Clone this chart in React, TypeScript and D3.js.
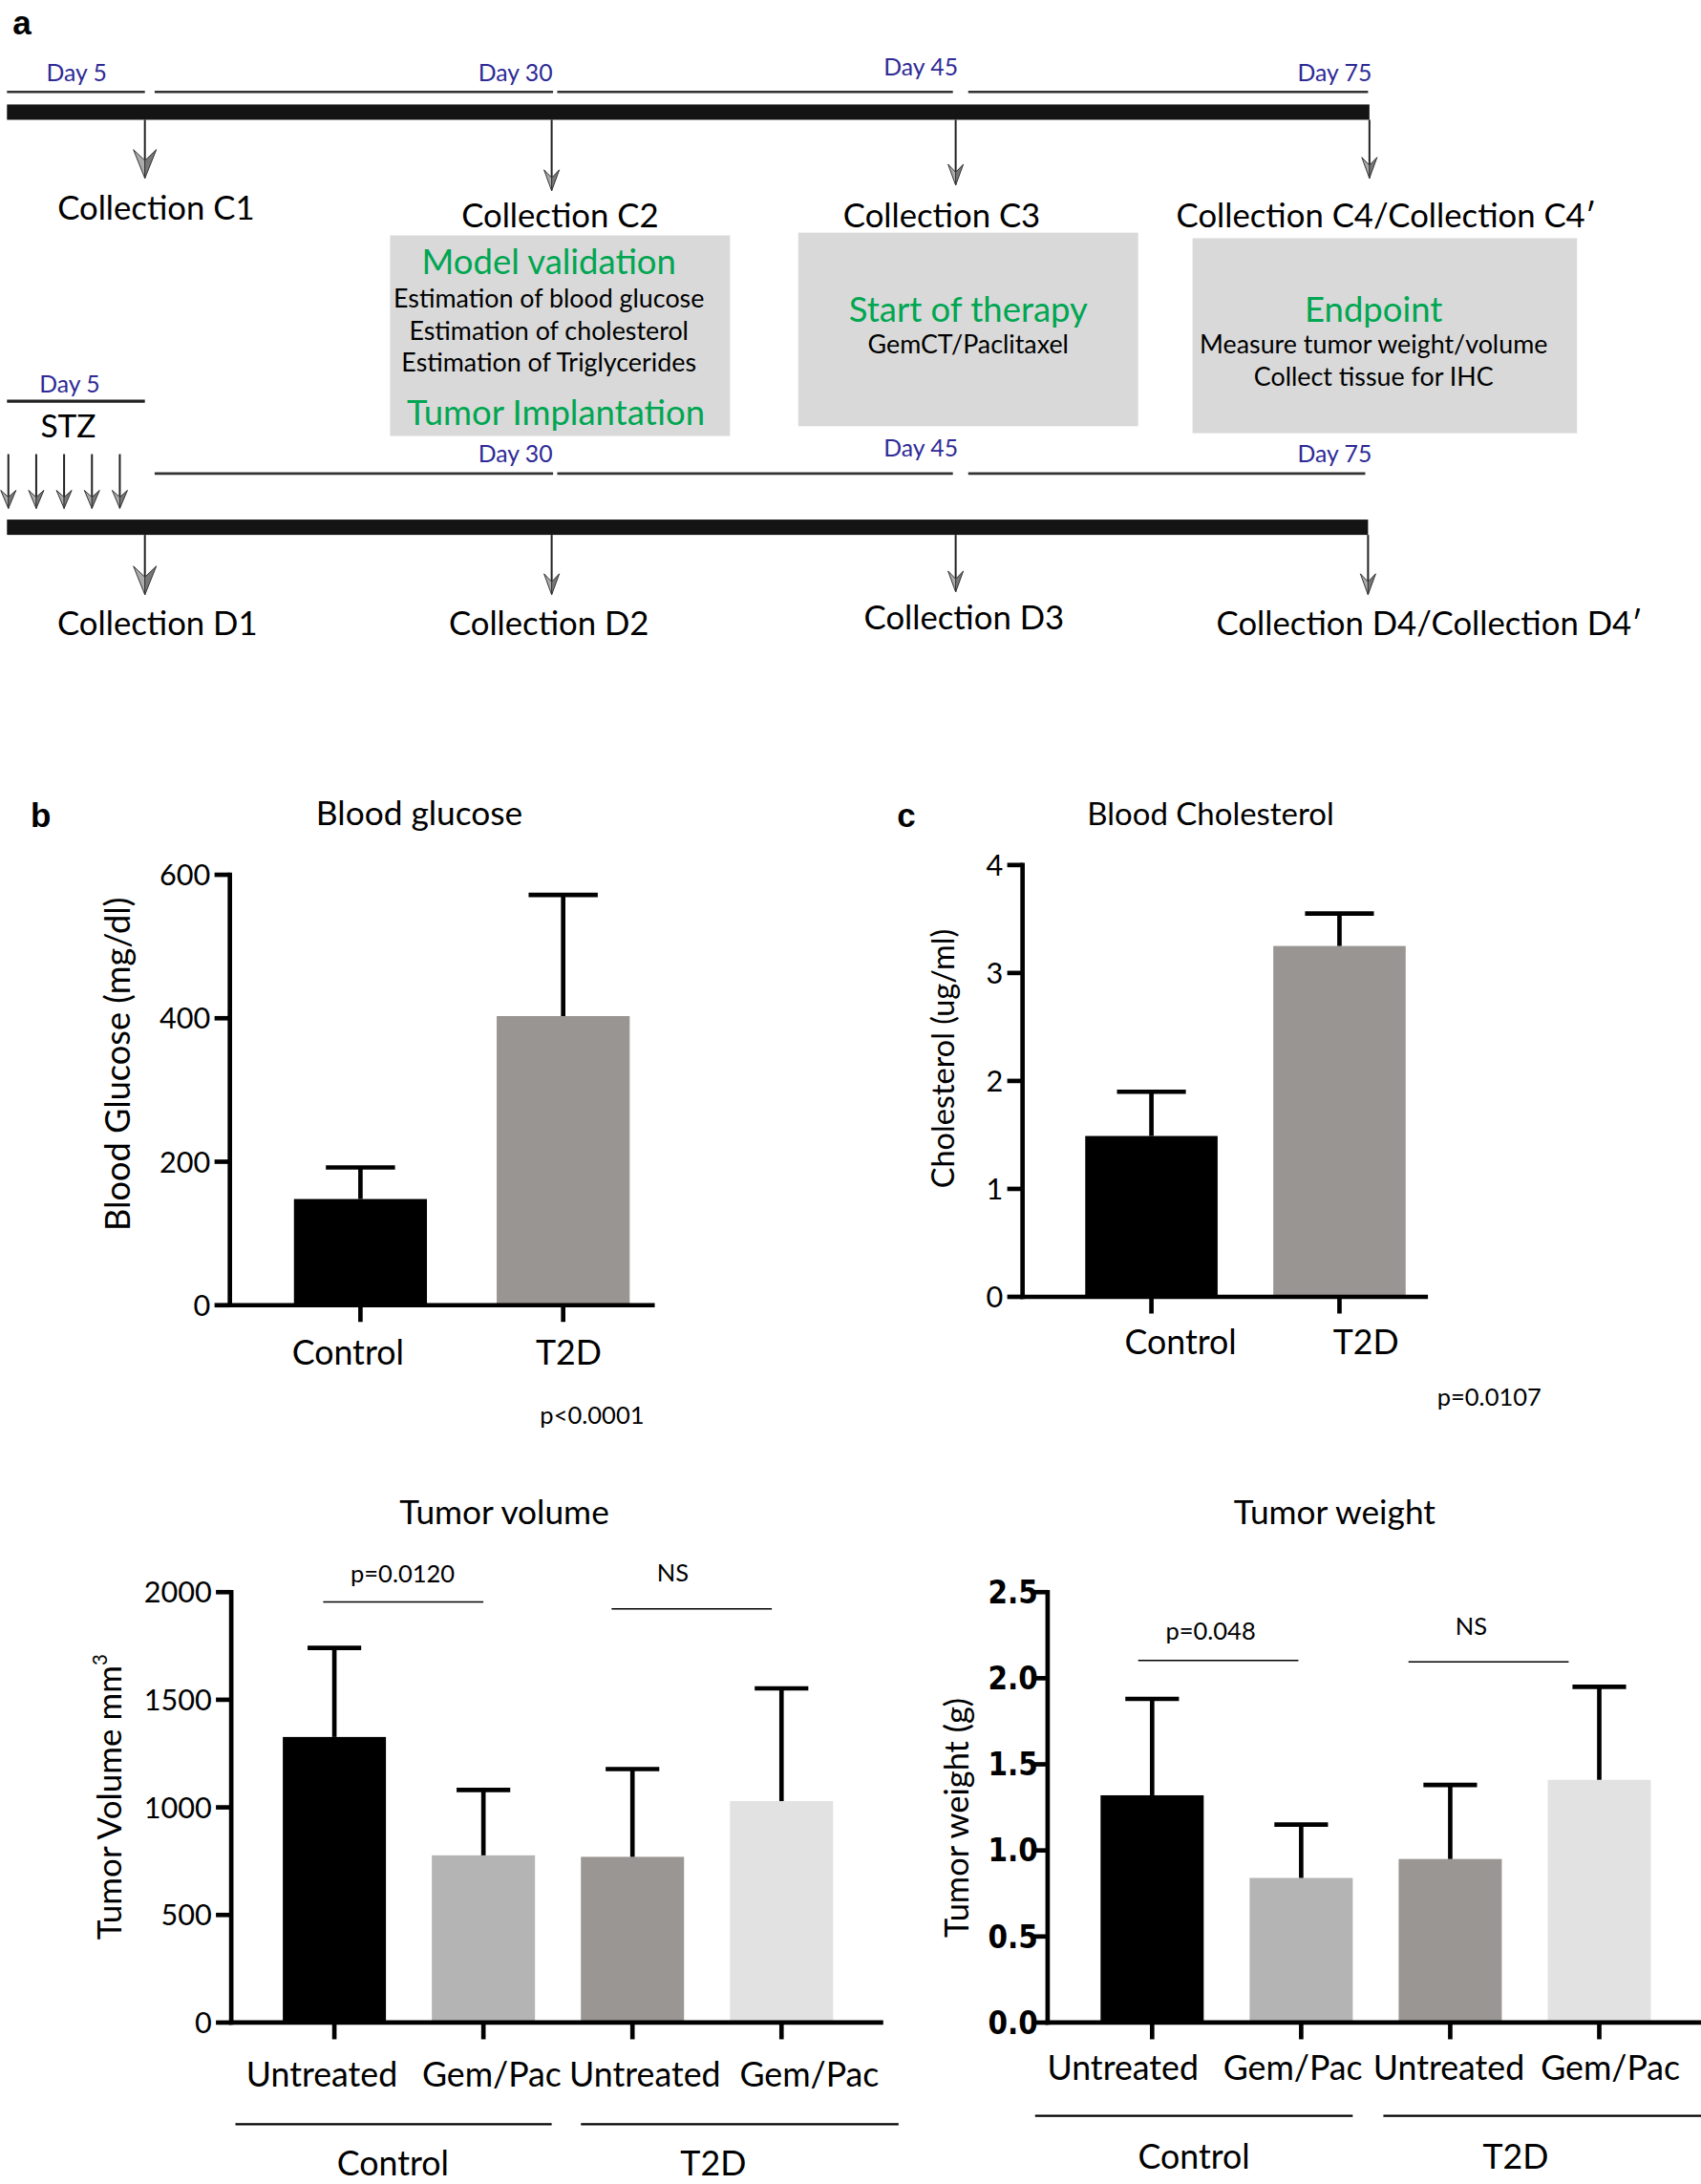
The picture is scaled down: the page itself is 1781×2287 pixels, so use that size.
import React from "react";
import * as d3 from "d3";

const K = 1781 / 1221;
const p = (v: number) => v * K;
const FONT = "Lato, 'Open Sans', sans-serif";
const COND = "'Liberation Sans Narrow', 'DejaVu Sans Condensed', 'Liberation Sans', sans-serif";
const BLUE = "#2e2a96";
const GREEN = "#00a651";

// ---------- Data ----------
const glucoseCategories = ["Control", "T2D"];
const glucoseMean = [148, 403];
const glucoseSD = [44, 169];
const glucoseTicks = [0, 200, 400, 600];

const cholCategories = ["Control", "T2D"];
const cholMean = [1.49, 3.25];
const cholSD = [0.41, 0.3];
const cholTicks = [0, 1, 2, 3, 4];

const tumorCategories = ["Untreated", "Gem/Pac", "Untreated", "Gem/Pac"];
const tumorGroups = ["Control", "T2D"];
const volumeMean = [1327, 777, 770, 1029];
const volumeSD = [414, 304, 408, 524];
const volumeTicks = [0, 500, 1000, 1500, 2000];
const weightMean = [1.32, 0.84, 0.95, 1.41];
const weightSD = [0.56, 0.31, 0.43, 0.54];
const weightTicks = [0, 0.5, 1.0, 1.5, 2.0, 2.5];

const twoColors = ["#000000", "#999592"];
const fourColors = ["#000000", "#b5b4b5", "#9a9693", "#e2e2e2"];

const timelineDays = ["Day 5", "Day 30", "Day 45", "Day 75"];
const topCollections = ["Collection C1", "Collection C2", "Collection C3", "Collection C4/Collection C4\u2032"];
const bottomCollections = ["Collection D1", "Collection D2", "Collection D3", "Collection D4/Collection D4\u2032"];

// ---------- Helpers ----------
function Arrow({ x, y1, y2, h, w }: { x: number; y1: number; y2: number; h: number; w: number }) {
  const notch = y2 - h * 0.62;
  return (
    <g>
      <line x1={x} x2={x} y1={y1} y2={notch + 2} stroke="#222" strokeWidth={2} />
      <path d={`M${x},${y2} L${x - w},${y2 - h} L${x},${notch} Z`} fill="#ababab" stroke="#333" strokeWidth={1} />
      <path d={`M${x},${y2} L${x + w},${y2 - h} L${x},${notch} Z`} fill="#777" stroke="#333" strokeWidth={1} />
    </g>
  );
}

type BarProps = {
  means: number[];
  sds: number[];
  labels: string[];
  colors: string[];
  ticks: number[];
  axisX: number;
  yTop: number;
  yBottom: number;
  axisEnd: number;
  barStart: number;
  barEnd: number;
  padInner: number;
  tickFmt: (v: number) => string;
  tickFont: string;
  tickWeight: number;
  tickSize: number;
  tickGap: number;
  labelY: number;
  labelSize: number;
  labelDx?: number[];
};

function BarChart(props: BarProps) {
  const { means, sds, labels, colors, ticks, axisX, yTop, yBottom, axisEnd, barStart, barEnd, padInner } = props;
  const y = d3.scaleLinear().domain([0, ticks[ticks.length - 1]]).range([yBottom, yTop]);
  const x = d3
    .scaleBand<number>()
    .domain(means.map((_, i) => i))
    .range([barStart, barEnd])
    .paddingInner(padInner)
    .paddingOuter(0);
  const bw = x.bandwidth();
  const sw = p(3.2);
  return (
    <g>
      {means.map((m, i) => (
        <rect key={"b" + i} x={x(i)} y={y(m)} width={bw} height={y(0) - y(m)} fill={colors[i]} />
      ))}
      {means.map((m, i) => {
        const cx = (x(i) as number) + bw / 2;
        return (
          <g key={"e" + i}>
            <line x1={cx} x2={cx} y1={y(m)} y2={y(m + sds[i])} stroke="#000" strokeWidth={sw} />
            <line x1={cx - bw * 0.26} x2={cx + bw * 0.26} y1={y(m + sds[i])} y2={y(m + sds[i])} stroke="#000" strokeWidth={sw} />
          </g>
        );
      })}
      <line x1={axisX} x2={axisX} y1={yTop - sw / 2} y2={yBottom + sw / 2} stroke="#000" strokeWidth={sw} />
      <line x1={axisX - sw / 2} x2={axisEnd} y1={yBottom} y2={yBottom} stroke="#000" strokeWidth={sw} />
      {ticks.map((t) => (
        <g key={"t" + t}>
          <line x1={axisX - p(11)} x2={axisX} y1={y(t)} y2={y(t)} stroke="#000" strokeWidth={sw} />
          <text
            x={axisX - props.tickGap}
            y={y(t)}
            dy="0.36em"
            textAnchor="end"
            fontFamily={props.tickFont}
            fontWeight={props.tickWeight}
            fontSize={props.tickSize}
          >
            {props.tickFmt(t)}
          </text>
        </g>
      ))}
      {means.map((_, i) => {
        const cx = (x(i) as number) + bw / 2;
        return (
          <g key={"x" + i}>
            <line x1={cx} x2={cx} y1={yBottom} y2={yBottom + p(12)} stroke="#000" strokeWidth={sw} />
            <text
              x={cx + (props.labelDx ? props.labelDx[i] : 0)}
              y={props.labelY}
              textAnchor="middle"
              fontFamily={FONT}
              fontSize={props.labelSize}
            >
              {labels[i]}
            </text>
          </g>
        );
      })}
    </g>
  );
}

export default function App() {
  const W = 1781;
  const H = 2287;
  const dayFs = p(17);
  const colFs = p(23.8);
  const boxHead = p(25);
  const boxTxt = p(18.4);
  const titleFs = p(24.2);
  const catFs = p(24.5);
  const pFs = p(17.5);
  const tickFs = p(21);

  const topSegs = [
    [5, 104],
    [111, 397],
    [400, 684],
    [695, 982],
  ];
  const botSegs = topSegs.slice(1).map((s, i) => (i === 2 ? [s[0], 980] : s));
  const topDayX = [55, 370, 661, 958];
  const topDayY = [58, 58, 54, 58];
  const arrowX = [104, 396, 686, 983];
  const topArrowEnd = [128, 137, 133, 128];
  const botArrowEnd = [427, 427, 425, 427];
  const topColX = [112, 402, 676, 995];
  const topColY = [158, 163, 163, 163];
  const botColX = [113, 394, 692, 1026];
  const botColY = [456, 456, 452, 456];
  const stzX = [6, 26, 46, 66, 86];

  return (
    <svg
      width={W}
      height={H}
      viewBox={`0 0 ${W} ${H}`}
      style={{ position: "absolute", left: 0, top: 0, background: "#fff" }}
      fontFamily={FONT}
    >
      <rect x={0} y={0} width={W} height={H} fill="#fff" />
      {/* ---------- Panel a ---------- */}
      <text x={p(9)} y={p(25)} fontFamily="'Liberation Sans', Arial, sans-serif" fontWeight={700} fontSize={p(24)}>
        a
      </text>
      {topSegs.map((s, i) => (
        <line key={"ts" + i} x1={p(s[0])} x2={p(s[1])} y1={p(66)} y2={p(66)} stroke="#333" strokeWidth={p(1.8)} />
      ))}
      {timelineDays.map((d, i) => (
        <text key={"td" + i} x={p(topDayX[i])} y={p(topDayY[i])} textAnchor="middle" fill={BLUE} fontSize={dayFs}>
          {d}
        </text>
      ))}
      <rect x={p(5)} y={p(75)} width={p(978)} height={p(11)} fill="#141414" />
      {arrowX.map((x, i) => (
        <Arrow key={"ta" + i} x={p(x)} y1={p(86)} y2={p(topArrowEnd[i])} h={i === 0 ? 30 : 22} w={i === 0 ? 12 : 8} />
      ))}
      {topCollections.map((c, i) => (
        <text key={"tc" + i} x={p(topColX[i])} y={p(topColY[i])} textAnchor="middle" fontSize={colFs}>
          {c}
        </text>
      ))}
      <rect x={p(280)} y={p(169)} width={p(244)} height={p(144)} fill="#d9d9d9" />
      <rect x={p(573)} y={p(167)} width={p(244)} height={p(139)} fill="#d9d9d9" />
      <rect x={p(856)} y={p(171)} width={p(276)} height={p(140)} fill="#d9d9d9" />
      <text x={p(394)} y={p(197)} textAnchor="middle" fill={GREEN} fontSize={boxHead}>Model validation</text>
      <text x={p(394)} y={p(221)} textAnchor="middle" fontSize={boxTxt}>Estimation of blood glucose</text>
      <text x={p(394)} y={p(244)} textAnchor="middle" fontSize={boxTxt}>Estimation of cholesterol</text>
      <text x={p(394)} y={p(267)} textAnchor="middle" fontSize={boxTxt}>Estimation of Triglycerides</text>
      <text x={p(399)} y={p(305)} textAnchor="middle" fill={GREEN} fontSize={boxHead}>Tumor Implantation</text>
      <text x={p(695)} y={p(231)} textAnchor="middle" fill={GREEN} fontSize={boxHead}>Start of therapy</text>
      <text x={p(695)} y={p(254)} textAnchor="middle" fontSize={boxTxt}>GemCT/Paclitaxel</text>
      <text x={p(986)} y={p(231)} textAnchor="middle" fill={GREEN} fontSize={boxHead}>Endpoint</text>
      <text x={p(986)} y={p(254)} textAnchor="middle" fontSize={boxTxt}>Measure tumor weight/volume</text>
      <text x={p(986)} y={p(277)} textAnchor="middle" fontSize={boxTxt}>Collect tissue for IHC</text>

      <text x={p(50)} y={p(282)} textAnchor="middle" fill={BLUE} fontSize={dayFs}>{timelineDays[0]}</text>
      <line x1={p(5)} x2={p(104)} y1={p(288)} y2={p(288)} stroke="#222" strokeWidth={p(2.2)} />
      <text x={p(49)} y={p(314)} textAnchor="middle" fontSize={p(23)}>STZ</text>
      {stzX.map((x, i) => (
        <Arrow key={"sa" + i} x={p(x)} y1={p(326)} y2={p(365)} h={19} w={8} />
      ))}
      {botSegs.map((s, i) => (
        <line key={"bs" + i} x1={p(s[0])} x2={p(s[1])} y1={p(340)} y2={p(340)} stroke="#333" strokeWidth={p(1.8)} />
      ))}
      {timelineDays.slice(1).map((d, i) => (
        <text key={"bd" + i} x={p(topDayX[i + 1])} y={p(topDayY[i + 1] + 274)} textAnchor="middle" fill={BLUE} fontSize={dayFs}>
          {d}
        </text>
      ))}
      <rect x={p(5)} y={p(373)} width={p(977)} height={p(11)} fill="#141414" />
      {arrowX.map((x, i) => (
        <Arrow key={"ba" + i} x={p(i === 3 ? 982 : x)} y1={p(384)} y2={p(botArrowEnd[i])} h={i === 0 ? 30 : 22} w={i === 0 ? 12 : 8} />
      ))}
      {bottomCollections.map((c, i) => (
        <text key={"bc" + i} x={p(botColX[i])} y={p(botColY[i])} textAnchor="middle" fontSize={colFs}>
          {c}
        </text>
      ))}

      {/* ---------- Panel b ---------- */}
      <text x={p(22)} y={p(594)} fontFamily="'Liberation Sans', Arial, sans-serif" fontWeight={700} fontSize={p(24)}>b</text>
      <text x={p(301)} y={p(592)} textAnchor="middle" fontSize={titleFs}>Blood glucose</text>
      <text transform={`translate(${p(93)},${p(764)}) rotate(-90)`} textAnchor="middle" fontSize={p(24.8)}>
        Blood Glucose (mg/dl)
      </text>
      <BarChart
        means={glucoseMean}
        sds={glucoseSD}
        labels={glucoseCategories}
        colors={twoColors}
        ticks={glucoseTicks}
        axisX={p(165)}
        yTop={p(628)}
        yBottom={p(937)}
        axisEnd={p(470)}
        barStart={p(211)}
        barEnd={p(452)}
        padInner={0.344}
        tickFmt={(v) => String(v)}
        tickFont={FONT}
        tickWeight={400}
        tickSize={tickFs}
        tickGap={p(14)}
        labelY={p(980)}
        labelSize={catFs}
        labelDx={[p(-9), p(4)]}
      />
      <text x={p(425)} y={p(1022)} textAnchor="middle" fontSize={pFs}>p&lt;0.0001</text>

      {/* ---------- Panel c ---------- */}
      <text x={p(644)} y={p(594)} fontFamily="'Liberation Sans', Arial, sans-serif" fontWeight={700} fontSize={p(24)}>c</text>
      <text x={p(869)} y={p(592)} textAnchor="middle" fontSize={p(22.6)}>Blood Cholesterol</text>
      <text transform={`translate(${p(685)},${p(760)}) rotate(-90)`} textAnchor="middle" fontSize={p(22.3)}>
        Cholesterol (ug/ml)
      </text>
      <BarChart
        means={cholMean}
        sds={cholSD}
        labels={cholCategories}
        colors={twoColors}
        ticks={cholTicks}
        axisX={p(734)}
        yTop={p(621)}
        yBottom={p(931)}
        axisEnd={p(1025)}
        barStart={p(779)}
        barEnd={p(1009)}
        padInner={0.296}
        tickFmt={(v) => String(v)}
        tickFont={FONT}
        tickWeight={400}
        tickSize={tickFs}
        tickGap={p(14)}
        labelY={p(972)}
        labelSize={catFs}
        labelDx={[p(21), p(19)]}
      />
      <text x={p(1069)} y={p(1009)} textAnchor="middle" fontSize={pFs}>p=0.0107</text>

      {/* ---------- Panel d: Tumor volume ---------- */}
      <text x={p(362)} y={p(1094)} textAnchor="middle" fontSize={titleFs}>Tumor volume</text>
      <text transform={`translate(${p(87)},${p(1290)}) rotate(-90)`} textAnchor="middle" fontSize={p(24)}>
        Tumor Volume mm
        <tspan dy={p(-10)} fontSize={p(14)}>3</tspan>
      </text>
      <BarChart
        means={volumeMean}
        sds={volumeSD}
        labels={tumorCategories}
        colors={fourColors}
        ticks={volumeTicks}
        axisX={p(166)}
        yTop={p(1143)}
        yBottom={p(1452)}
        axisEnd={p(634)}
        barStart={p(203)}
        barEnd={p(598)}
        padInner={0.308}
        tickFmt={(v) => String(v)}
        tickFont={FONT}
        tickWeight={400}
        tickSize={tickFs}
        tickGap={p(14)}
        labelY={p(1498)}
        labelSize={catFs}
        labelDx={[p(-9), p(6), p(9), p(20)]}
      />
      {tumorGroups.map((g, i) => {
        const seg = i === 0 ? [169, 396] : [417, 645];
        return (
          <g key={"vg" + i}>
            <line x1={p(seg[0])} x2={p(seg[1])} y1={p(1525)} y2={p(1525)} stroke="#000" strokeWidth={p(1.6)} />
            <text x={p(i === 0 ? 282 : 512)} y={p(1562)} textAnchor="middle" fontSize={catFs}>{g}</text>
          </g>
        );
      })}
      <text x={p(289)} y={p(1136)} textAnchor="middle" fontSize={pFs}>p=0.0120</text>
      <line x1={p(232)} x2={p(347)} y1={p(1150)} y2={p(1150)} stroke="#000" strokeWidth={p(1)} />
      <text x={p(483)} y={p(1135)} textAnchor="middle" fontSize={pFs}>NS</text>
      <line x1={p(439)} x2={p(554)} y1={p(1155)} y2={p(1155)} stroke="#000" strokeWidth={p(1)} />

      {/* ---------- Panel e: Tumor weight ---------- */}
      <text x={p(958)} y={p(1094)} textAnchor="middle" fontSize={titleFs}>Tumor weight</text>
      <text transform={`translate(${p(695)},${p(1305)}) rotate(-90)`} textAnchor="middle" fontSize={p(23.6)}>
        Tumor weight (g)
      </text>
      <BarChart
        means={weightMean}
        sds={weightSD}
        labels={tumorCategories}
        colors={fourColors}
        ticks={weightTicks}
        axisX={p(752)}
        yTop={p(1143)}
        yBottom={p(1452)}
        axisEnd={p(1221)}
        barStart={p(790)}
        barEnd={p(1185)}
        padInner={0.308}
        tickFmt={(v) => v.toFixed(1)}
        tickFont={COND}
        tickWeight={700}
        tickSize={p(22.5)}
        tickGap={p(7)}
        labelY={p(1493)}
        labelSize={catFs}
        labelDx={[p(-21), p(-6), p(-1), p(8)]}
      />
      {tumorGroups.map((g, i) => {
        const seg = i === 0 ? [743, 971] : [993, 1221];
        return (
          <g key={"wg" + i}>
            <line x1={p(seg[0])} x2={p(seg[1])} y1={p(1519)} y2={p(1519)} stroke="#000" strokeWidth={p(1.6)} />
            <text x={p(i === 0 ? 857 : 1088)} y={p(1557)} textAnchor="middle" fontSize={catFs}>{g}</text>
          </g>
        );
      })}
      <text x={p(869)} y={p(1177)} textAnchor="middle" fontSize={pFs}>p=0.048</text>
      <line x1={p(817)} x2={p(932)} y1={p(1192)} y2={p(1192)} stroke="#000" strokeWidth={p(1)} />
      <text x={p(1056)} y={p(1174)} textAnchor="middle" fontSize={pFs}>NS</text>
      <line x1={p(1011)} x2={p(1126)} y1={p(1193)} y2={p(1193)} stroke="#000" strokeWidth={p(1)} />
    </svg>
  );
}
